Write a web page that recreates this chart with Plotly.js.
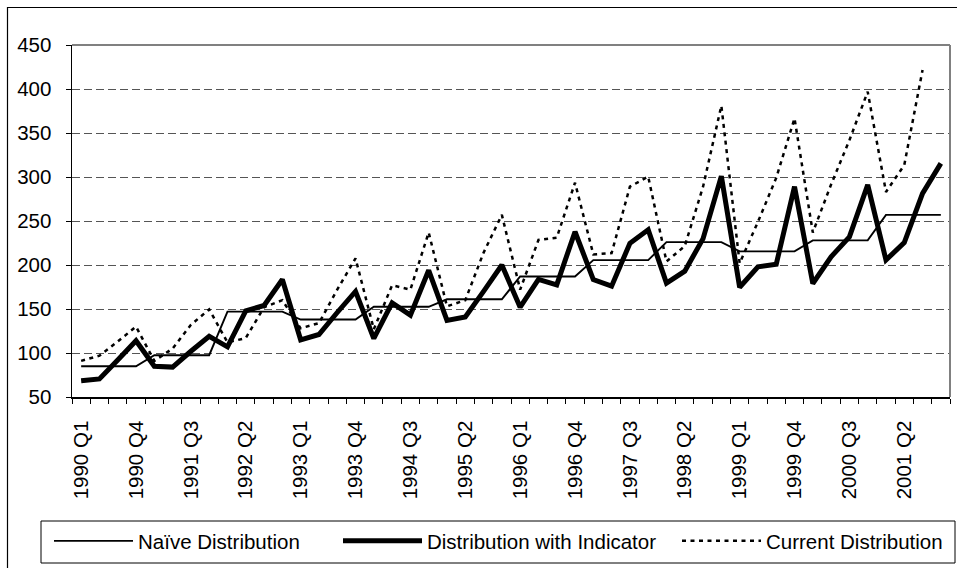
<!DOCTYPE html>
<html><head><meta charset="utf-8">
<script src="https://cdn.plot.ly/plotly-3.0.1.min.js"></script>
<style>html,body{margin:0;padding:0;background:#fff}#chart{width:957px;height:568px}</style>
</head><body><div id="chart"></div>
<script>
const quarters = [
  "1990 Q1","1990 Q2","1990 Q3","1990 Q4","1991 Q1","1991 Q2","1991 Q3","1991 Q4",
  "1992 Q1","1992 Q2","1992 Q3","1992 Q4","1993 Q1","1993 Q2","1993 Q3","1993 Q4",
  "1994 Q1","1994 Q2","1994 Q3","1994 Q4","1995 Q1","1995 Q2","1995 Q3","1995 Q4",
  "1996 Q1","1996 Q2","1996 Q3","1996 Q4","1997 Q1","1997 Q2","1997 Q3","1997 Q4",
  "1998 Q1","1998 Q2","1998 Q3","1998 Q4","1999 Q1","1999 Q2","1999 Q3","1999 Q4",
  "2000 Q1","2000 Q2","2000 Q3","2000 Q4","2001 Q1","2001 Q2","2001 Q3","2001 Q4"
];
const naive = [
  85,85,85,85, 97.5,97.5,97.5,97.5, 147,147,147,147, 138,138,138,138,
  152.5,152.5,152.5,152.5, 161,161,161,161, 187,187,187,187, 205.5,205.5,205.5,205.5,
  226,226,226,226, 215.5,215.5,215.5,215.5, 228,228,228,228, 257,257,257,257
];
const indicator = [
  68.5,70.5,92,114, 85,84,102,119, 107,148,154,183.5, 115,121,146,170,
  116.5,157,143,194, 137,141,170,200, 152,183.7,177.5,237.8, 183.5,176,224.6,240,
  179.5,193,230,301, 174.7,198,200.8,289, 179,209.4,232,291, 205.7,225.4,281.4,315.5
];
const current = [
  91,97,113,130, 91,105,132,149.6, 112,117,152,160, 128,134,172,207.6,
  127,177,172,237, 153,160,214,257, 172,228.4,231,293.5, 212,213.5,289,300.5,
  204,221.5,289,381, 202,249,299,366.6, 237,291.5,341.8,397, 283,313.6,421.6,null
];
const seriesNames = ["Naïve Distribution","Distribution with Indicator","Current Distribution"];
const labelEvery = 3;

const xIdx = quarters.map((q, i) => i);
const tickIdx = xIdx.filter(i => i % labelEvery === 0);
const tickTxt = tickIdx.map(i => quarters[i]);

const FONT = "Arial, 'Liberation Sans', sans-serif";

const traces = [
  {x: xIdx, y: naive, name: seriesNames[0], type: 'scatter', mode: 'lines',
   line: {color: '#000', width: 1.9}, legend: 'legend', hoverinfo: 'skip'},
  {x: xIdx, y: indicator, name: seriesNames[1], type: 'scatter', mode: 'lines',
   line: {color: '#000', width: 5}, legend: 'legend2', hoverinfo: 'skip'},
  {x: xIdx, y: current, name: seriesNames[2], type: 'scatter', mode: 'lines',
   line: {color: '#000', width: 2.5, dash: '4px,4.5px'}, legend: 'legend3', hoverinfo: 'skip'}
];

const px2x = p => (p - 72) / 878;
const px2y = p => (397 - p) / 352;

const legendBase = {orientation: 'h', xanchor: 'left', yanchor: 'middle',
  font: {family: FONT, size: 20.5, color: '#000'}, bgcolor: 'rgba(0,0,0,0)',
  borderwidth: 0, itemwidth: 79, y: px2y(541)};

const layout = {
  width: 957, height: 568,
  margin: {l: 72, r: 7, t: 45, b: 171, pad: 0},
  paper_bgcolor: '#fff', plot_bgcolor: '#fff',
  font: {family: FONT, size: 20.5, color: '#000'},
  showlegend: true,
  legend: Object.assign({}, legendBase, {x: px2x(49)}),
  legend2: Object.assign({}, legendBase, {x: px2x(338)}),
  legend3: Object.assign({}, legendBase, {x: px2x(677)}),
  xaxis: {
    range: [-0.5, 47.5], tickmode: 'array', tickvals: tickIdx, ticktext: tickTxt,
    tickangle: -90, ticks: '', showline: true, linecolor: '#000', linewidth: 1.5,
    showgrid: false, zeroline: false, ticklabelstandoff: 14,
    tickfont: {family: FONT, size: 20.5, color: '#000'},
    minor: {tickmode: 'linear', tick0: -0.5, dtick: 1, ticks: 'outside', ticklen: 5,
            tickcolor: '#000', tickwidth: 1, showgrid: false}
  },
  yaxis: {
    range: [50, 450], tickmode: 'linear', tick0: 50, dtick: 50,
    ticks: 'outside', ticklen: 5, tickcolor: '#000', tickwidth: 1,
    showline: true, linecolor: '#000', linewidth: 1.5,
    showgrid: true, gridcolor: '#555', gridwidth: 1, griddash: '8px,4px',
    zeroline: false, ticklabelstandoff: 10,
    tickfont: {family: FONT, size: 20.5, color: '#000'}
  },
  shapes: [
    {type: 'line', xref: 'paper', yref: 'paper', x0: 0, x1: 1, y0: 1, y1: 1,
     line: {color: '#808080', width: 2}},
    {type: 'line', xref: 'paper', yref: 'paper', x0: 1, x1: 1, y0: 0, y1: 1,
     line: {color: '#808080', width: 2}},
    {type: 'rect', xref: 'paper', yref: 'paper', x0: px2x(41), x1: px2x(955),
     y0: px2y(563), y1: px2y(521), line: {color: '#000', width: 1}},
    {type: 'rect', xref: 'paper', yref: 'paper', x0: px2x(7.5), x1: px2x(980),
     y0: px2y(600), y1: px2y(7.5), line: {color: '#000', width: 1.2}}
  ]
};

Plotly.newPlot('chart', traces, layout, {displayModeBar: false, staticPlot: true});
</script>
</body></html>
